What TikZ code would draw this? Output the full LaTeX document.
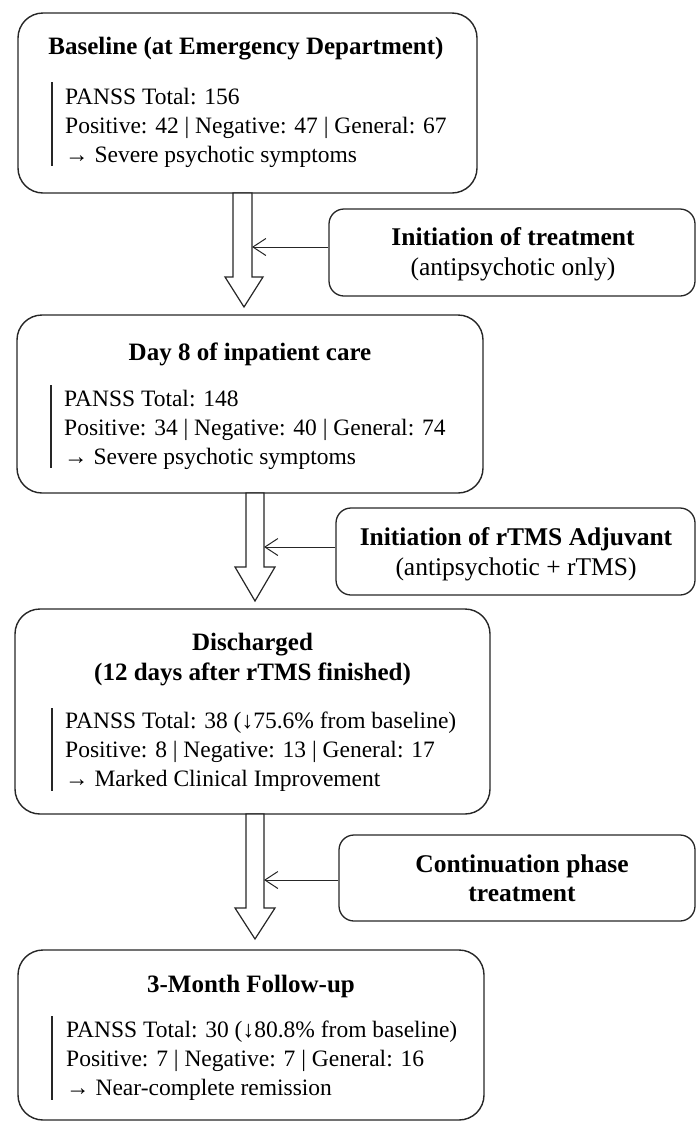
\documentclass[tikz,border=0pt]{standalone}
\usepackage{fontspec}
\setmainfont{Liberation Serif}
\usetikzlibrary{arrows.meta}
\begin{document}
\begin{tikzpicture}[x=1pt,y=-1pt,
  mainbox/.style={draw=black!85, line width=1.4pt, rounded corners=25pt, inner sep=0pt},
  sidebox/.style={draw=black!85, line width=1.3pt, rounded corners=15pt, inner sep=0pt},
  ttl/.style={font=\fontsize{25}{30}\selectfont\bfseries, inner sep=0pt, anchor=base},
  sub/.style={font=\fontsize{25.5}{30}\selectfont, inner sep=0pt, anchor=base},
  subb/.style={font=\fontsize{25.5}{30}\selectfont\bfseries, inner sep=0pt, anchor=base},
  body/.style={font=\fontsize{23.5}{28.5}\selectfont, inner sep=0pt, anchor=base west},
  fat/.style={draw=black!85, line width=1.2pt, fill=white, line join=miter},
  bar/.style={line width=1.4pt, draw=black!85},
  feed/.style={line width=1pt, draw=black!85, -{Straight Barb[length=13pt,width=17pt]}}
]
\useasboundingbox (0,0) rectangle (696,1122);

% main boxes
\node[mainbox, minimum width=459pt, minimum height=180pt] (b1) at (247.5,103) {};
\node[mainbox, minimum width=466pt, minimum height=178pt] (b2) at (250,404) {};
\node[mainbox, minimum width=475pt, minimum height=205pt] (b3) at (252.5,711.5) {};
\node[mainbox, minimum width=466pt, minimum height=170pt] (b4) at (251,1035) {};

% side boxes
\node[sidebox, minimum width=366pt, minimum height=87pt] (s1) at (512,252.5) {};
\node[sidebox, minimum width=359pt, minimum height=87pt] (s2) at (515.5,551.5) {};
\node[sidebox, minimum width=356pt, minimum height=86pt] (s3) at (517,878) {};

% fat arrows between main boxes
\draw[fat] (233,193) -- (233,277) -- (225,277) -- (244,307) -- (263,277) -- (252,277) -- (252,193) -- cycle;
\draw[fat] (246,493) -- (246,567) -- (235,567) -- (255,601) -- (275,567) -- (264,567) -- (264,493) -- cycle;
\draw[fat] (246,814) -- (246,908) -- (235,908) -- (255,939) -- (275,908) -- (264,908) -- (264,814) -- cycle;

% feed arrows from side boxes
\coordinate (k1) at (252,247);
\coordinate (k2) at (264,547);
\coordinate (k3) at (264,880);
\draw[feed] (s1.west |- k1) -- (k1);
\draw[feed] (s2.west |- k2) -- (k2);
\draw[feed] (s3.west |- k3) -- (k3);

% box 1 text
\node[ttl] (t1) at (246,54) {Baseline (at Emergency Department)};
\draw[bar] (52,82) -- (52,166);
\node[body] (b1a) at (65,104) {PANSS Total: 156};
\node[body] (b1b) at (65,133) {Positive: 42 | Negative: 47 | General: 67};
\node[body] (b1c) at (65,162) {→ Severe psychotic symptoms};

% box 2 text
\node[ttl] (t2) at (250,360) {Day 8 of inpatient care};
\draw[bar] (51,385) -- (51,468);
\node[body] (b2a) at (64,406) {PANSS Total: 148};
\node[body] (b2b) at (64,435) {Positive: 34 | Negative: 40 | General: 74};
\node[body] (b2c) at (64,464) {→ Severe psychotic symptoms};

% box 3 text
\node[ttl] (t3a) at (252.5,650) {Discharged};
\node[ttl] (t3b) at (252.5,680) {(12 days after rTMS finished)};
\draw[bar] (52,708) -- (52,791);
\node[body] (b3a) at (65,728) {PANSS Total: 38 (↓75.6\% from baseline)};
\node[body] (b3b) at (65,757) {Positive: 8 | Negative: 13 | General: 17};
\node[body] (b3c) at (65,786) {→ Marked Clinical Improvement};

% box 4 text
\node[ttl] (t4) at (251,992) {3-Month Follow-up};
\draw[bar] (52,1016) -- (52,1100);
\node[body] (b4a) at (66,1037) {PANSS Total: 30 (↓80.8\% from baseline)};
\node[body] (b4b) at (66,1066) {Positive: 7 | Negative: 7 | General: 16};
\node[body] (b4c) at (66,1095) {→ Near-complete remission};

% side box texts
\node[subb] (s1a) at (513,245) {Initiation of treatment};
\node[sub] (s1b) at (513,275) {(antipsychotic only)};
\node[subb] (s2a) at (516,545) {Initiation of rTMS Adjuvant};
\node[sub] (s2b) at (516,575) {(antipsychotic + rTMS)};
\node[subb] (s3a) at (522,872) {Continuation phase};
\node[subb] (s3b) at (522,901) {treatment};
\end{tikzpicture}
\end{document}
